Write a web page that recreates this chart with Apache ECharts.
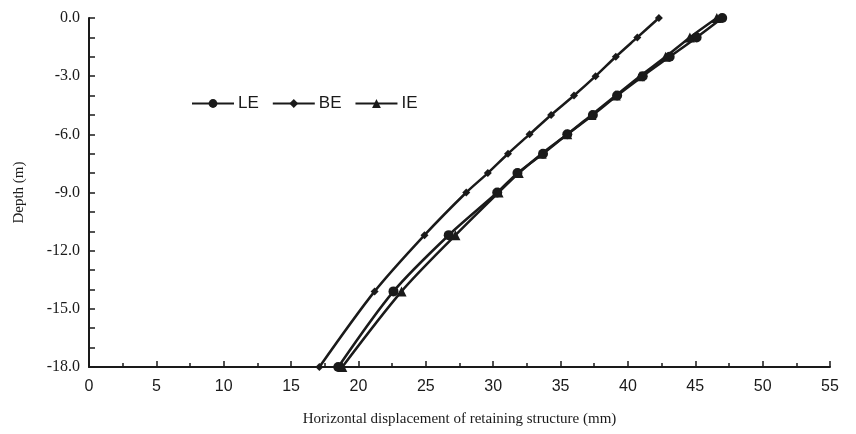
<!DOCTYPE html>
<html>
<head>
<meta charset="utf-8">
<script src="https://cdn.jsdelivr.net/npm/echarts@6/dist/echarts.min.js"></script>
<style>
  html, body { margin: 0; padding: 0; background: #fff; }
  #chart { width: 856px; height: 434px; }
</style>
</head>
<body>
<div id="chart"></div>
<script>
// depth points (m)
var depths = [0, -1, -2, -3, -4, -5, -6, -7, -8, -9, -11.2, -14.1, -18];
// horizontal displacement (mm)
var leValues = [47.0, 45.1, 43.1, 41.1, 39.2, 37.4, 35.5, 33.7, 31.8, 30.3, 26.7, 22.6, 18.5];
var beValues = [42.3, 40.7, 39.1, 37.6, 36.0, 34.3, 32.7, 31.1, 29.6, 28.0, 24.9, 21.2, 17.1];
var ieValues = [46.6, 44.6, 42.8, 40.9, 39.1, 37.3, 35.5, 33.6, 31.9, 30.4, 27.2, 23.2, 18.8];
var seriesNames = ['LE', 'BE', 'IE'];

var chart = echarts.init(document.getElementById('chart'));

function pairs(xs) {
  return xs.map(function (x, i) { return [x, depths[i]]; });
}

function makeSeries(name, values, symbol, size) {
  return {
    name: name,
    type: 'line',
    smooth: 0.3,
    symbol: symbol,
    symbolSize: size,
    showAllSymbol: true,
    lineStyle: { color: '#1a1a1a', width: 2.5 },
    itemStyle: { color: '#1a1a1a' },
    data: pairs(values)
  };
}

var option = {
  animation: false,
  backgroundColor: '#fff',
  grid: {
    left: 89,
    right: 26,
    top: 18,
    bottom: 67
  },
  legend: {
    left: 186,
    top: 90,
    itemWidth: 42,
    itemHeight: 11,
    itemGap: 13,
    data: seriesNames,
    textStyle: {
      fontFamily: 'Liberation Sans, Arial, sans-serif',
      fontSize: 17,
      color: '#1a1a1a',
      padding: [0, 0, 0, -1]
    }
  },
  xAxis: {
    type: 'value',
    min: 0,
    max: 55,
    interval: 5,
    name: 'Horizontal displacement of retaining structure (mm)',
    nameLocation: 'middle',
    nameGap: 45,
    nameTextStyle: {
      fontFamily: 'Liberation Serif, Times New Roman, serif',
      fontSize: 15,
      color: '#1a1a1a'
    },
    axisLine: { onZero: false, lineStyle: { color: '#1a1a1a', width: 2 } },
    axisTick: { inside: true, length: 6, lineStyle: { color: '#1a1a1a', width: 1.5 } },
    minorTick: { show: true, splitNumber: 2, length: 4, lineStyle: { color: '#1a1a1a', width: 1.5 } },
    splitLine: { show: false },
    axisLabel: {
      margin: 12,
      fontFamily: 'Liberation Sans, Arial, sans-serif',
      fontSize: 16,
      color: '#1a1a1a'
    }
  },
  yAxis: {
    type: 'value',
    min: -18,
    max: 0,
    interval: 3,
    name: 'Depth (m)',
    nameLocation: 'middle',
    nameGap: 62,
    nameRotate: 90,
    nameTextStyle: {
      fontFamily: 'Liberation Serif, Times New Roman, serif',
      fontSize: 15,
      color: '#1a1a1a'
    },
    axisLine: { onZero: false, lineStyle: { color: '#1a1a1a', width: 2 } },
    axisTick: { inside: true, length: 6, lineStyle: { color: '#1a1a1a', width: 1.5 } },
    minorTick: { show: true, splitNumber: 3, length: 6, lineStyle: { color: '#1a1a1a', width: 1.5 } },
    splitLine: { show: false },
    axisLabel: {
      margin: 9,
      fontFamily: 'Liberation Serif, Times New Roman, serif',
      fontSize: 16,
      color: '#1a1a1a',
      formatter: function (v) { return v.toFixed(1); }
    }
  },
  series: [
    makeSeries('LE', leValues, 'circle', 10),
    makeSeries('BE', beValues, 'diamond', 8),
    makeSeries('IE', ieValues, 'triangle', 10)
  ]
};

chart.setOption(option);
</script>
</body>
</html>
